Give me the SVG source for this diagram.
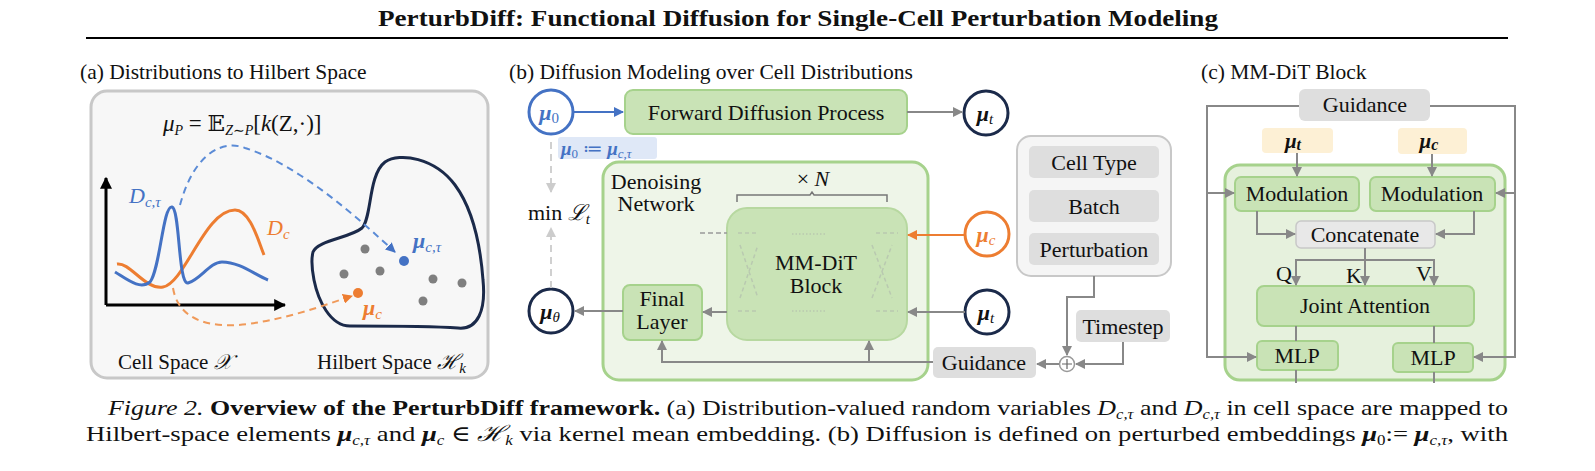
<svg xmlns="http://www.w3.org/2000/svg" width="1595" height="471" viewBox="0 0 1595 471" font-family="'Liberation Serif','Times New Roman','DejaVu Serif',serif">
<style>
text{font-family:"Liberation Serif","Times New Roman","DejaVu Serif",serif;fill:#111}
.t{font-size:22px}
.c{text-anchor:middle}
.bm{font-weight:bold;font-style:italic}
.i{font-style:italic}
.g{fill:#c9e3b6;stroke:#a6d28c;stroke-width:2}
.gr{fill:#dedede;stroke:none}
.ln{fill:none;stroke:#888;stroke-width:2}
.nv{fill:#fff;stroke:#1b2a4a;stroke-width:3}
</style>
<defs>
<marker id="ag" viewBox="0 0 10 10" refX="9" refY="5" markerWidth="5" markerHeight="5" orient="auto"><path d="M0,0 L10,5 L0,10 z" fill="#888"/></marker>
<marker id="ab" viewBox="0 0 10 10" refX="9" refY="5" markerWidth="5" markerHeight="5" orient="auto"><path d="M0,0 L10,5 L0,10 z" fill="#4472c4"/></marker>
<marker id="ao" viewBox="0 0 10 10" refX="9" refY="5" markerWidth="5" markerHeight="5" orient="auto"><path d="M0,0 L10,5 L0,10 z" fill="#ed7d31"/></marker>
<marker id="ak" viewBox="0 0 10 10" refX="9" refY="5" markerWidth="4" markerHeight="4" orient="auto"><path d="M0,0 L10,5 L0,10 z" fill="#000"/></marker>
<marker id="al" viewBox="0 0 10 10" refX="9" refY="5" markerWidth="5" markerHeight="5" orient="auto"><path d="M0,0 L10,5 L0,10 z" fill="#ccc"/></marker>
</defs>

<text x="798" y="26" class="c" style="font-size:24px;font-weight:bold" textLength="840" lengthAdjust="spacingAndGlyphs">PerturbDiff: Functional Diffusion for Single-Cell Perturbation Modeling</text>
<line x1="86" y1="38" x2="1508" y2="38" stroke="#000" stroke-width="2"/>

<!-- Panel a -->
<g id="panel-a">
<text x="80" y="79" style="font-size:21.5px">(a) Distributions to Hilbert Space</text>
<rect x="91" y="91" width="397" height="287" rx="16" fill="#f7f7f7" stroke="#c8c8c8" stroke-width="3"/>
<text x="163" y="131" style="font-size:23px"><tspan class="i">μ</tspan><tspan class="i" font-size="14" dy="4">P</tspan><tspan dy="-4"> =  𝔼</tspan><tspan class="i" font-size="14" dy="4">Z∼P</tspan><tspan dy="-4">[</tspan><tspan class="i">k</tspan><tspan>(Z,·)]</tspan></text>
<line x1="106" y1="305" x2="106" y2="178" stroke="#000" stroke-width="3" marker-end="url(#ak)"/>
<line x1="106" y1="305" x2="285" y2="305" stroke="#000" stroke-width="3" marker-end="url(#ak)"/>
<path d="M117,264 C130,262 145,290 163,287 C185,283 205,210 235,210 C250,210 258,240 264,255" fill="none" stroke="#ed7d31" stroke-width="3"/>
<path d="M115,272 C128,280 140,290 150,282 C160,270 163,205 172,207 C180,209 178,285 188,283 C200,280 210,262 222,262 C240,262 255,275 268,280" fill="none" stroke="#4472c4" stroke-width="3"/>
<text x="129" y="203" class="i" style="font-size:22px;fill:#4472c4">D<tspan font-size="15" dy="4">c,τ</tspan></text>
<text x="267" y="235" class="i" style="font-size:22px;fill:#ed7d31">D<tspan font-size="15" dy="4">c</tspan></text>
<path d="M313,252 C318,240 350,238 362,228 C372,218 368,175 385,162 C400,152 435,158 455,185 C472,208 480,240 483,280 C486,310 478,330 458,328 C430,326 385,326 350,326 C330,326 318,300 314,280 C312,270 311,260 313,252 Z" fill="none" stroke="#1b2a4a" stroke-width="3"/>
<path d="M180,205 C195,150 225,140 245,148 C300,165 360,220 395,252" fill="none" stroke="#5b8bd6" stroke-width="2" stroke-dasharray="7,5" marker-end="url(#ab)"/>
<path d="M173,288 C180,330 230,328 260,322 C300,315 330,303 352,296" fill="none" stroke="#f09a5a" stroke-width="2" stroke-dasharray="7,5" marker-end="url(#ao)"/>
<g fill="#7f7f7f"><circle cx="365" cy="249" r="4.5"/><circle cx="344" cy="274" r="4.5"/><circle cx="380" cy="271" r="4.5"/><circle cx="433" cy="279" r="4.5"/><circle cx="462" cy="283" r="4.5"/><circle cx="423" cy="301" r="4.5"/></g>
<circle cx="404" cy="261" r="5" fill="#4472c4"/>
<circle cx="358" cy="293" r="5" fill="#ed7d31"/>
<text x="413" y="248" class="bm" style="font-size:22px;fill:#4472c4">μ<tspan font-size="15" dy="4" font-weight="normal">c,τ</tspan></text>
<text x="363" y="315" class="bm" style="font-size:22px;fill:#ed7d31">μ<tspan font-size="15" dy="4" font-weight="normal">c</tspan></text>
<text x="118" y="369" style="font-size:21px">Cell Space <tspan class="i">𝒳</tspan></text>
<text x="317" y="369" style="font-size:21px">Hilbert Space <tspan class="i">ℋ</tspan><tspan class="i" font-size="15" dy="4">k</tspan></text>
</g>

<!-- Panel b -->
<text x="509" y="79" style="font-size:21.5px">(b) Diffusion Modeling over Cell Distributions</text>
<g id="denoising">
<rect x="603" y="162" width="325" height="218" rx="16" fill="#eef5e8" stroke="#a6d28c" stroke-width="3"/>
<text x="656" y="189" class="t c">Denoising</text>
<text x="656" y="211" class="t c">Network</text>
<text x="813" y="186" class="t c">× <tspan class="i">N</tspan></text>
<path d="M737,202 V195 H810 L812,192 L814,195 H887 V202" fill="none" stroke="#777" stroke-width="1.5"/>
</g>
<g id="mmdit">
<rect x="727" y="208" width="180" height="132" rx="20" fill="#c9e3b6" stroke="#b7d8a0" stroke-width="2"/>
<g stroke="#b9c9b0" stroke-width="1.5" fill="none" stroke-dasharray="4,3"><path d="M738,233 H758 M738,311 H758 M876,233 H898 M876,311 H898 M740,298 L758,245 M740,245 L758,298 M872,298 L892,245 M872,245 L892,298"/><path d="M792,234 H826 M792,311 H826" stroke-dasharray="1.5,2"/></g>
<text x="816" y="270" class="t c">MM-DiT</text>
<text x="816" y="293" class="t c">Block</text>
</g>
<g id="final-layer"><rect x="623" y="285" width="79" height="55" rx="7" class="g"/><text x="662" y="306" class="t c">Final</text><text x="662" y="329" class="t c">Layer</text></g>
<g id="forward"><rect x="625" y="90" width="282" height="44" rx="8" class="g"/><text x="766" y="120" class="t c">Forward Diffusion Process</text></g>
<g id="mu0"><circle cx="551" cy="112" r="22" fill="#fff" stroke="#4472c4" stroke-width="3"/><text x="549" y="120" class="bm c" style="font-size:22px;fill:#4472c4">μ<tspan font-size="15" font-weight="normal" font-style="normal" dy="3">0</tspan></text></g>
<g id="mu0-def"><rect x="558" y="137" width="99" height="22" rx="3" fill="#dfe8f7"/><text x="561" y="155" class="bm" style="font-size:19px;fill:#4472c4">μ<tspan font-size="13" font-weight="normal" font-style="normal" dy="3">0</tspan><tspan dy="-3" font-style="normal" font-weight="normal"> ≔ </tspan>μ<tspan font-size="13" font-weight="normal" dy="3">c,τ</tspan></text></g>
<g id="mut-top"><circle cx="986" cy="113" r="22" class="nv"/><text x="985" y="121" class="bm c" style="font-size:22px">μ<tspan font-size="15" font-weight="normal" dy="3">t</tspan></text></g>
<g id="muc"><circle cx="987" cy="234" r="22" fill="#fff" stroke="#ed7d31" stroke-width="3"/><text x="986" y="242" class="bm c" style="font-size:22px;fill:#ed7d31">μ<tspan font-size="15" font-weight="normal" dy="3">c</tspan></text></g>
<g id="mut-bot"><circle cx="987" cy="312" r="22" class="nv"/><text x="986" y="320" class="bm c" style="font-size:22px">μ<tspan font-size="15" font-weight="normal" dy="3">t</tspan></text></g>
<g id="mutheta"><circle cx="551" cy="311" r="22" class="nv"/><text x="550" y="319" class="bm c" style="font-size:22px">μ<tspan font-size="15" font-weight="normal" dy="3">θ</tspan></text></g>
<g id="loss"><text x="528" y="220" class="t">min <tspan class="i">ℒ</tspan><tspan class="i" font-size="15" dy="4">t</tspan></text></g>
<g id="conditions">
<rect x="1017" y="136" width="154" height="140" rx="14" fill="#f5f5f5" stroke="#c8c8c8" stroke-width="2"/>
<rect x="1029" y="146" width="130" height="32" rx="5" class="gr"/><text x="1094" y="170" class="t c">Cell Type</text>
<rect x="1029" y="190" width="130" height="32" rx="5" class="gr"/><text x="1094" y="214" class="t c">Batch</text>
<rect x="1029" y="233" width="130" height="32" rx="5" class="gr"/><text x="1094" y="257" class="t c">Perturbation</text>
</g>
<g id="timestep"><rect x="1076" y="310" width="94" height="32" rx="5" class="gr"/><text x="1123" y="334" class="t c">Timestep</text></g>
<g id="guidance-b"><rect x="933" y="347" width="103" height="31" rx="5" class="gr"/><text x="984" y="370" class="t c">Guidance</text></g>
<g id="plus"><circle cx="1067" cy="364" r="7.5" fill="#fff" stroke="#999" stroke-width="1.5"/><path d="M1062,364 H1072 M1067,359 V369" stroke="#666" stroke-width="1.2"/></g>

<!-- Panel c -->
<text x="1201" y="79" style="font-size:21.5px">(c) MM-DiT Block</text>
<g id="mmdit-outer"><rect x="1225" y="165" width="280" height="215" rx="15" fill="#e6f1dd" stroke="#a6d28c" stroke-width="3"/></g>
<g id="guidance-c"><rect x="1299" y="89" width="131" height="32" rx="6" class="gr"/><text x="1365" y="112" class="t c">Guidance</text></g>
<g id="mut-c"><rect x="1262" y="128" width="71" height="25" rx="4" fill="#fdf0d5"/><text x="1293" y="148" class="bm c" style="font-size:21px">μ<tspan font-size="16" dy="2">t</tspan></text></g>
<g id="muc-c"><rect x="1398" y="128" width="69" height="26" rx="4" fill="#fdf0d5"/><text x="1429" y="148" class="bm c" style="font-size:21px">μ<tspan font-size="16" dy="2">c</tspan></text></g>
<g id="mod-l"><rect x="1235" y="177" width="124" height="34" rx="6" class="g"/><text x="1297" y="201" class="t c">Modulation</text></g>
<g id="mod-r"><rect x="1370" y="177" width="125" height="34" rx="6" class="g"/><text x="1432" y="201" class="t c">Modulation</text></g>
<g id="concat"><rect x="1296" y="221" width="139" height="27" rx="5" fill="#e8e8e8" stroke="#c8c8c8" stroke-width="1.5"/><text x="1365" y="242" class="t c">Concatenate</text></g>
<g id="joint"><rect x="1257" y="286" width="217" height="40" rx="7" class="g"/><text x="1365" y="313" class="t c">Joint Attention</text></g>
<g id="mlp-l"><rect x="1257" y="341" width="81" height="29" rx="5" class="g"/><text x="1297" y="363" class="t c">MLP</text></g>
<g id="mlp-r"><rect x="1393" y="343" width="80" height="29" rx="5" class="g"/><text x="1433" y="365" class="t c">MLP</text></g>
<text x="1276" y="281" class="t">Q</text><text x="1346" y="283" class="t">K</text><text x="1416" y="281" class="t">V</text>

<g id="connectors">
<line x1="573" y1="112" x2="623" y2="112" stroke="#4472c4" stroke-width="2" marker-end="url(#ab)"/>
<line x1="907" y1="112" x2="962" y2="112" class="ln" marker-end="url(#ag)"/>
<line x1="551" y1="142" x2="551" y2="192" stroke="#d0d0d0" stroke-width="2" stroke-dasharray="7,5" marker-end="url(#al)"/>
<line x1="551" y1="288" x2="551" y2="228" stroke="#d0d0d0" stroke-width="2" stroke-dasharray="7,5" marker-end="url(#al)"/>
<line x1="965" y1="235" x2="908" y2="235" stroke="#ed7d31" stroke-width="2" marker-end="url(#ao)"/>
<line x1="965" y1="312" x2="908" y2="312" class="ln" marker-end="url(#ag)"/>
<line x1="700" y1="233" x2="727" y2="233" stroke="#999" stroke-width="1.5" stroke-dasharray="5,3"/>
<line x1="727" y1="312" x2="703" y2="312" class="ln" marker-end="url(#ag)"/>
<line x1="623" y1="311" x2="575" y2="311" class="ln" marker-end="url(#ag)"/>
<path d="M933,362 H662 V341" class="ln" marker-end="url(#ag)"/>
<path d="M869,362 V341" class="ln" marker-end="url(#ag)"/>
<path d="M1094,276 V297 H1067 V355" class="ln" marker-end="url(#ag)"/>
<path d="M1123,342 V364 H1076" class="ln" marker-end="url(#ag)"/>
<line x1="1059" y1="364" x2="1037" y2="364" class="ln" marker-end="url(#ag)"/>
<path d="M1299,106 H1207 V357 H1256" class="ln" marker-end="url(#ag)"/>
<path d="M1207,193 H1234" class="ln" marker-end="url(#ag)"/>
<path d="M1430,106 H1515 V357 H1474" class="ln" marker-end="url(#ag)"/>
<path d="M1515,193 H1496" class="ln" marker-end="url(#ag)"/>
<path d="M1297,153 V176" class="ln" marker-end="url(#ag)"/>
<path d="M1432,154 V176" class="ln" marker-end="url(#ag)"/>
<path d="M1257,211 V234 H1295" class="ln" marker-end="url(#ag)"/>
<path d="M1474,211 V234 H1436" class="ln" marker-end="url(#ag)"/>
<path d="M1365,248 V285" class="ln" marker-end="url(#ag)"/>
<path d="M1296,285 V260 H1434 V285" class="ln" marker-end="url(#ag)"/>
<path d="M1296,260 V285" class="ln" marker-end="url(#ag)"/>
<path d="M1296,326 V341 M1434,326 V343 M1296,370 V383 M1434,372 V383" class="ln"/>
</g>

<text x="108" y="415" style="font-size:22px" textLength="1400" lengthAdjust="spacingAndGlyphs"><tspan class="i">Figure 2.</tspan> <tspan font-weight="bold">Overview of the PerturbDiff framework.</tspan> (a) Distribution-valued random variables <tspan class="i">D</tspan><tspan class="i" font-size="14" dy="4">c,τ</tspan><tspan dy="-4"> and </tspan><tspan class="i">D</tspan><tspan class="i" font-size="14" dy="4">c,τ</tspan><tspan dy="-4"> in cell space are mapped to</tspan></text>
<text x="86" y="441" style="font-size:22px" textLength="1422" lengthAdjust="spacingAndGlyphs">Hilbert-space elements <tspan class="bm">μ</tspan><tspan class="i" font-size="14" dy="4">c,τ</tspan><tspan dy="-4"> and </tspan><tspan class="bm">μ</tspan><tspan class="i" font-size="14" dy="4">c</tspan><tspan dy="-4"> ∈ </tspan><tspan class="i">ℋ</tspan><tspan class="i" font-size="14" dy="4">k</tspan><tspan dy="-4"> via kernel mean embedding. (b) Diffusion is defined on perturbed embeddings </tspan><tspan class="bm">μ</tspan><tspan font-size="14" dy="4">0</tspan><tspan dy="-4">:= </tspan><tspan class="bm">μ</tspan><tspan class="i" font-size="14" dy="4">c,τ</tspan><tspan dy="-4">, with</tspan></text>
</svg>
